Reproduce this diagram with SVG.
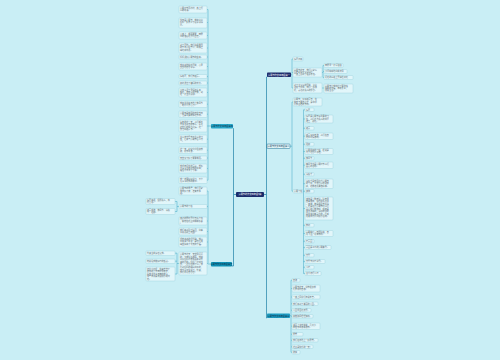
<svg xmlns="http://www.w3.org/2000/svg" width="500" height="360" viewBox="0 0 500 360">
<style>
.bg{fill:#c9eef5}
.leaf rect{fill:#e2f6fa;stroke:#9bcfdc;stroke-width:.4}
.leaf text{font-family:"Noto Sans CJK SC","Noto Sans",sans-serif;font-size:2.1px;fill:#5d6b72}
.nd text{font-family:"Noto Sans CJK SC","Noto Sans",sans-serif;font-size:2.2px;text-anchor:middle}
.br{fill:none;stroke:#3ea6c5;stroke-width:.5}
.sp{fill:none;stroke:#1d7fa6;stroke-width:.7}
</style>
<rect class="bg" x="0" y="0" width="500" height="360"/>

<g id="connectors">
<path class="sp" d="M236,194.5 H233.5 V128.5 H233"/>
<path class="sp" d="M233.5,194.5 V266 H232"/>
<path class="sp" d="M264,194.5 H266.5 V77 H267"/>
<path class="sp" d="M266.5,194.5 V318 H267"/>
<path class="br" d="M211,126 H208 M208,9.5 V180.2"/>
<path class="br" d="M208,9.5 H207 M208,22.5 H207 M208,35.5 H207 M208,48 H207 M208,57 H207 M208,66.5 H207 M208,76.5 H207 M208,83 H207 M208,92.5 H207 M208,104.2 H207 M208,114.2 H207 M208,126 H207 M208,139.2 H207 M208,150.2 H207 M208,158 H207 M208,168.5 H207 M208,180.2 H207"/>
<path class="br" d="M211,264 H208 M208,191 V263.5 M208,191 H207 M208,206.5 H207 M208,221 H207 M208,231.5 H207 M208,242 H207 M208,263.5 H207"/>
<path class="br" d="M179,206.5 H177 M177,201.5 V211.5 M177,201.5 H175 M177,211.5 H175"/>
<path class="br" d="M179,263.5 H177 M177,253.2 V274 M177,253.2 H175 M177,261.2 H175 M177,274 H175"/>
<path class="br" d="M291,74.7 H292 M292,59 V88 M292,59 H293 M292,72.5 H293 M292,88 H293"/>
<path class="br" d="M322,72.5 H323 M323,65.5 V77.5 M323,65.5 H324 M323,71.5 H324 M323,77.5 H324"/>
<path class="br" d="M322,88 H324"/>
<path class="br" d="M290,146.2 H292 M292,102 V191.2 M292,102 H293 M292,191.2 H293"/>
<path class="br" d="M303,191.2 H303.5 M303.5,109.8 V273.5 M303.5,109.8 H305 M303.5,119 H305 M303.5,128.3 H305 M303.5,136.2 H305 M303.5,144.3 H305 M303.5,151.5 H305 M303.5,158.3 H305 M303.5,165.2 H305 M303.5,174.3 H305 M303.5,183.7 H305 M303.5,191.3 H305 M303.5,208.5 H305 M303.5,225.3 H305 M303.5,233.5 H305 M303.5,241.3 H305 M303.5,247.5 H305 M303.5,255.3 H305 M303.5,261.5 H305 M303.5,267.3 H305 M303.5,273.5 H305"/>
<path class="br" d="M290,315.7 H291 M291,280.3 V352.3 M291,280.3 H292 M291,288.5 H292 M291,297 H292 M291,303.8 H292 M291,310.3 H292 M291,316.3 H292 M291,326.2 H292 M291,334.3 H292 M291,340.3 H292 M291,346.8 H292 M291,352.3 H292"/>
</g>

<g id="center" class="nd"><rect x="236" y="192" width="28" height="5" rx="1" fill="#1b2b6b"/><text x="250" y="195.3" fill="#ffffff">清明节的作文四年级5篇</text></g>
<g id="r1" class="nd"><rect x="267" y="72.5" width="24" height="4.5" rx="0.8" fill="#1b2b6b"/><text x="279" y="75.6" fill="#ffffff">清明节作文四年级篇一</text></g>
<g id="r2" class="nd"><rect x="267" y="144" width="23" height="4.5" rx="0.8" fill="#e6f8fb" stroke="#1d6f92" stroke-width=".5"/><text x="278.5" y="147.1" fill="#1d4a63">清明节作文四年级篇二</text></g>
<g id="r3" class="nd"><rect x="267" y="313.5" width="23" height="4.5" rx="0.8" fill="#1c9bc2"/><text x="278.5" y="316.6" fill="#0d2f45">清明节作文四年级篇三</text></g>
<g id="l1" class="nd"><rect x="211" y="124" width="22" height="4.5" rx="0.8" fill="#27a8cb"/><text x="222" y="127.1" fill="#0d2f45">清明节作文四年级篇四</text></g>
<g id="l2" class="nd"><rect x="211" y="262" width="21" height="4.5" rx="0.8" fill="#0f93b8"/><text x="221.5" y="265.1" fill="#0d2f45">清明节作文四年级篇五</text></g>

<g id="a1" class="leaf"><rect x="179" y="6" width="28" height="7" rx="0.8"/><text x="180" y="8.6"><tspan x="180">清明时节雨纷纷，路上行</tspan><tspan x="180" dy="2.4">人欲断魂。</tspan></text></g>
<g id="a2" class="leaf"><rect x="179" y="18" width="28" height="10" rx="0.8"/><text x="180" y="20.8"><tspan x="180">今天是清明节，我和爸爸</tspan><tspan x="180" dy="2.4">妈妈一起去乡下给爷爷扫</tspan><tspan x="180" dy="2.4">墓。</tspan></text></g>
<g id="a3" class="leaf"><rect x="179" y="32" width="28" height="7" rx="0.8"/><text x="180" y="34.6"><tspan x="180">一路上，细雨蒙蒙，田野</tspan><tspan x="180" dy="2.4">里的油菜花开得正旺。</tspan></text></g>
<g id="a4" class="leaf"><rect x="179" y="43" width="28" height="10" rx="0.8"/><text x="180" y="45.8"><tspan x="180">到了墓地，我们先把周围</tspan><tspan x="180" dy="2.4">的杂草清理干净，再摆上</tspan><tspan x="180" dy="2.4">鲜花和水果。</tspan></text></g>
<g id="a5" class="leaf"><rect x="179" y="55" width="28" height="4" rx="0.8"/><text x="180" y="57.7">妈妈讲起清明节的由来。</text></g>
<g id="a6" class="leaf"><rect x="179" y="63" width="28" height="7" rx="0.8"/><text x="180" y="65.6"><tspan x="180">我静静地站在墓前，心里</tspan><tspan x="180" dy="2.4">默默地想念爷爷。</tspan></text></g>
<g id="a7" class="leaf"><rect x="179" y="74.5" width="28" height="4" rx="0.8"/><text x="180" y="77.2">扫完墓，我们去踏青。</text></g>
<g id="a8" class="leaf"><rect x="179" y="81" width="28" height="4" rx="0.8"/><text x="180" y="83.7">柳树发出了嫩绿的新芽。</text></g>
<g id="a9" class="leaf"><rect x="179" y="88" width="28" height="9" rx="0.8"/><text x="180" y="90.6"><tspan x="180">小草从泥土里探出头来，</tspan><tspan x="180" dy="2.4">桃花、杏花争相开放，到</tspan><tspan x="180" dy="2.4">处一片生机勃勃。</tspan></text></g>
<g id="a10" class="leaf"><rect x="179" y="101" width="28" height="6.5" rx="0.8"/><text x="180" y="103.6"><tspan x="180">我和弟弟在草地上放风筝</tspan><tspan x="180" dy="2.4">，玩得可开心了。</tspan></text></g>
<g id="a11" class="leaf"><rect x="179" y="111" width="28" height="6.5" rx="0.8"/><text x="180" y="113.6"><tspan x="180">清明节是我国的传统节日</tspan><tspan x="180" dy="2.4">，也是重要的祭祀节日。</tspan></text></g>
<g id="a12" class="leaf"><rect x="179" y="120" width="28" height="12" rx="0.8"/><text x="180" y="122.8"><tspan x="180">每年的这一天，人们都会</tspan><tspan x="180" dy="2.4">去祭奠逝去的亲人，表达</tspan><tspan x="180" dy="2.4">对他们的怀念之情。这一</tspan><tspan x="180" dy="2.4">天也叫踏青节。</tspan></text></g>
<g id="a13" class="leaf"><rect x="179" y="135" width="28" height="8.5" rx="0.8"/><text x="180" y="137.6"><tspan x="180">古人有寒食节不生火的习</tspan><tspan x="180" dy="2.4">俗，后来与清明节合二为</tspan><tspan x="180" dy="2.4">一。</tspan></text></g>
<g id="a14" class="leaf"><rect x="179" y="147" width="28" height="6.5" rx="0.8"/><text x="180" y="149.6"><tspan x="180">这一天，家家户户插柳戴</tspan><tspan x="180" dy="2.4">柳，祈求平安。</tspan></text></g>
<g id="a15" class="leaf"><rect x="179" y="156" width="28" height="4" rx="0.8"/><text x="180" y="158.7">天空又下起了蒙蒙细雨。</text></g>
<g id="a16" class="leaf"><rect x="179" y="164" width="28" height="9" rx="0.8"/><text x="180" y="166.6"><tspan x="180">我望着远处的青山，想起</tspan><tspan x="180" dy="2.4">了爷爷生前对我的教诲，</tspan><tspan x="180" dy="2.4">眼泪不禁流了下来。</tspan></text></g>
<g id="a17" class="leaf"><rect x="179" y="177" width="28" height="6.5" rx="0.8"/><text x="180" y="179.6"><tspan x="180">我一定要好好学习，不辜</tspan><tspan x="180" dy="2.4">负爷爷对我的期望。</tspan></text></g>

<g id="b1" class="leaf"><rect x="179" y="187" width="28" height="8" rx="0.8"/><text x="180" y="189.4"><tspan x="180">清明节的早晨，我们全家</tspan><tspan x="180" dy="2.4">早早起了床，准备去祭</tspan><tspan x="180" dy="2.4">祖。</tspan></text></g>
<g id="b2" class="leaf"><rect x="179" y="204.5" width="28" height="4" rx="0.8"/><text x="180" y="207.2">清明节的习俗</text></g>
<g id="b2a" class="leaf"><rect x="146" y="198.5" width="29" height="6" rx="0.8"/><text x="147" y="201"><tspan x="147">扫墓祭祖，缅怀先人，寄</tspan><tspan x="147" dy="2.4">托哀思。</tspan></text></g>
<g id="b2b" class="leaf"><rect x="146" y="208.5" width="29" height="6" rx="0.8"/><text x="147" y="211"><tspan x="147">踏青郊游，放风筝、荡秋</tspan><tspan x="147" dy="2.4">千、插柳。</tspan></text></g>
<g id="b3" class="leaf"><rect x="179" y="217" width="28" height="8" rx="0.8"/><text x="180" y="219.4"><tspan x="180">路边的野花开得五颜六色</tspan><tspan x="180" dy="2.4">，蝴蝶在花丛中翩翩起舞</tspan><tspan x="180" dy="2.4">。</tspan></text></g>
<g id="b4" class="leaf"><rect x="179" y="228" width="28" height="7" rx="0.8"/><text x="180" y="230.6"><tspan x="180">我们来到烈士陵园，向革</tspan><tspan x="180" dy="2.4">命先烈献上花圈。</tspan></text></g>
<g id="b5" class="leaf"><rect x="179" y="237" width="28" height="10" rx="0.8"/><text x="180" y="239.8"><tspan x="180">望着高高的纪念碑，我心</tspan><tspan x="180" dy="2.4">中充满了敬意，是他们用</tspan><tspan x="180" dy="2.4">鲜血换来了今天的幸福。</tspan></text></g>
<g id="b6" class="leaf"><rect x="179" y="252" width="28" height="23" rx="0.8"/><text x="180" y="255"><tspan x="180">清明节这天，天空阴沉沉</tspan><tspan x="180" dy="2.6">的，下着毛毛细雨。我和</tspan><tspan x="180" dy="2.6">爸爸妈妈带着祭品来到外</tspan><tspan x="180" dy="2.6">婆的墓前。妈妈一边烧纸</tspan><tspan x="180" dy="2.6">钱，一边念叨着什么。我</tspan><tspan x="180" dy="2.6">看到妈妈的眼睛红红的，</tspan><tspan x="180" dy="2.6">我也忍不住哭了。外婆，</tspan><tspan x="180" dy="2.6">我们永远想念您！</tspan></text></g>
<g id="b6a" class="leaf"><rect x="146" y="251" width="29" height="4.5" rx="0.8"/><text x="147" y="253.9">外婆生前最疼爱我。</text></g>
<g id="b6b" class="leaf"><rect x="146" y="259" width="29" height="4.5" rx="0.8"/><text x="147" y="261.9">她总给我做好吃的饭菜。</text></g>
<g id="b6c" class="leaf"><rect x="146" y="267" width="29" height="14" rx="0.8"/><text x="147" y="269.8"><tspan x="147">记得小时候，外婆常常牵</tspan><tspan x="147" dy="2.5">着我的手去田野里散步，</tspan><tspan x="147" dy="2.5">给我讲许多有趣的故事，</tspan><tspan x="147" dy="2.5">那些日子是我最快乐的时</tspan><tspan x="147" dy="2.5">光。</tspan></text></g>

<g id="c1" class="leaf"><rect x="293" y="57" width="10" height="4" rx="0.8"/><text x="294" y="59.7">扫墓归来</text></g>
<g id="c2" class="leaf"><rect x="293" y="68" width="29" height="9" rx="0.8"/><text x="294" y="70.6"><tspan x="294">清明节这天，我们一家人</tspan><tspan x="294" dy="2.4">回老家给太爷爷扫墓，</tspan><tspan x="294" dy="2.4">一路上见到了很多景色。</tspan></text></g>
<g id="c2a" class="leaf"><rect x="324" y="63.5" width="19" height="4" rx="0.8"/><text x="325" y="66.2">田野里一片绿油油</text></g>
<g id="c2b" class="leaf"><rect x="324" y="69.5" width="23" height="4" rx="0.8"/><text x="325" y="72.2">小河哗哗地向前流淌</text></g>
<g id="c2c" class="leaf"><rect x="324" y="75.5" width="29" height="4" rx="0.8"/><text x="325" y="78.2">远处的山坡上开满杜鹃花</text></g>
<g id="c3" class="leaf"><rect x="293" y="83" width="29" height="10" rx="0.8"/><text x="294" y="85.8"><tspan x="294">到了太爷爷的墓前，爸爸</tspan><tspan x="294" dy="2.4">点燃了香烛，我们一起鞠</tspan><tspan x="294" dy="2.4">躬，表达对先人的怀念。</tspan></text></g>
<g id="c3a" class="leaf"><rect x="324" y="84" width="29" height="9" rx="0.8"/><text x="325" y="86.6"><tspan x="325">清明节让我懂得了要珍惜</tspan><tspan x="325" dy="2.4">眼前的幸福，孝敬长辈，</tspan><tspan x="325" dy="2.4">感恩生活。</tspan></text></g>

<g id="d1" class="leaf"><rect x="293" y="98" width="29" height="8" rx="0.8"/><text x="294" y="100.4"><tspan x="294">清明节，又叫踏青节，在</tspan><tspan x="294" dy="2.4">仲春与暮春之交，是中华</tspan><tspan x="294" dy="2.4">民族古老的节日。</tspan></text></g>
<g id="d2" class="leaf"><rect x="293" y="189.5" width="10" height="3.5" rx="0.8"/><text x="294" y="192">清明习俗</text></g>
<g id="e1" class="leaf"><rect x="305" y="108" width="9" height="3.5" rx="0.8"/><text x="306" y="110.5">扫墓</text></g>
<g id="e2" class="leaf"><rect x="305" y="115" width="28" height="8" rx="0.8"/><text x="306" y="117.4"><tspan x="306">扫墓是清明节最重要的习</tspan><tspan x="306" dy="2.4">俗，人们会为先人的坟墓</tspan><tspan x="306" dy="2.4">培土、献花。</tspan></text></g>
<g id="e3" class="leaf"><rect x="305" y="126.5" width="9" height="3.5" rx="0.8"/><text x="306" y="129">踏青</text></g>
<g id="e4" class="leaf"><rect x="305" y="133" width="28" height="6.5" rx="0.8"/><text x="306" y="135.6"><tspan x="306">踏青又叫春游，人们在春</tspan><tspan x="306" dy="2.4">光中尽情游玩。</tspan></text></g>
<g id="e5" class="leaf"><rect x="305" y="142.5" width="9" height="3.5" rx="0.8"/><text x="306" y="145">插柳</text></g>
<g id="e6" class="leaf"><rect x="305" y="148.5" width="28" height="6" rx="0.8"/><text x="306" y="151"><tspan x="306">清明插柳的习俗，据说是</tspan><tspan x="306" dy="2.4">为了纪念介子推。</tspan></text></g>
<g id="e7" class="leaf"><rect x="305" y="156.5" width="9" height="3.5" rx="0.8"/><text x="306" y="159">放风筝</text></g>
<g id="e8" class="leaf"><rect x="305" y="162" width="28" height="6.5" rx="0.8"/><text x="306" y="164.6"><tspan x="306">放风筝也是清明时节人们</tspan><tspan x="306" dy="2.4">喜爱的活动。</tspan></text></g>
<g id="e9" class="leaf"><rect x="305" y="172.5" width="9" height="3.5" rx="0.8"/><text x="306" y="175">荡秋千</text></g>
<g id="e10" class="leaf"><rect x="305" y="179" width="28" height="9.5" rx="0.8"/><text x="306" y="181.7"><tspan x="306">荡秋千是我国古代清明节</tspan><tspan x="306" dy="2.4">的习俗，不仅可以增进健</tspan><tspan x="306" dy="2.4">康，还能培养勇敢精神。</tspan></text></g>
<g id="e11" class="leaf"><rect x="305" y="189.5" width="9" height="3.5" rx="0.8"/><text x="306" y="192">蹴鞠</text></g>
<g id="e12" class="leaf"><rect x="305" y="197" width="28" height="23" rx="0.8"/><text x="306" y="199.8"><tspan x="306">蹴鞠是一种皮球，球皮用</tspan><tspan x="306" dy="2.5">皮革做成，球内用毛塞紧</tspan><tspan x="306" dy="2.5">。蹴鞠，就是用足去踢球</tspan><tspan x="306" dy="2.5">。这是古代清明节时人们</tspan><tspan x="306" dy="2.5">喜爱的一种游戏，相传是</tspan><tspan x="306" dy="2.5">黄帝发明的，最初的目的</tspan><tspan x="306" dy="2.5">是用来训练武士的，后来</tspan><tspan x="306" dy="2.5">逐渐成为民间娱乐活动。</tspan></text></g>
<g id="e13" class="leaf"><rect x="305" y="223.5" width="9" height="3.5" rx="0.8"/><text x="306" y="226">植树</text></g>
<g id="e14" class="leaf"><rect x="305" y="230.5" width="28" height="6" rx="0.8"/><text x="306" y="233"><tspan x="306">清明前后，春阳照临，春</tspan><tspan x="306" dy="2.4">雨飞洒，适宜植树。</tspan></text></g>
<g id="e15" class="leaf"><rect x="305" y="239.5" width="9" height="3.5" rx="0.8"/><text x="306" y="242">吃青团</text></g>
<g id="e16" class="leaf"><rect x="305" y="245.5" width="26" height="4" rx="0.8"/><text x="306" y="248.2">青团是江南的清明美食。</text></g>
<g id="e17" class="leaf"><rect x="305" y="253.5" width="9" height="3.5" rx="0.8"/><text x="306" y="256">寒食</text></g>
<g id="e18" class="leaf"><rect x="305" y="259.5" width="20" height="4" rx="0.8"/><text x="306" y="262.2">寒食节只吃冷食。</text></g>
<g id="e19" class="leaf"><rect x="305" y="265.5" width="9" height="3.5" rx="0.8"/><text x="306" y="268">斗鸡</text></g>
<g id="e20" class="leaf"><rect x="305" y="271.5" width="16" height="4" rx="0.8"/><text x="306" y="274.2">古代盛行斗鸡</text></g>

<g id="f1" class="leaf"><rect x="292" y="278.5" width="8" height="3.5" rx="0.8"/><text x="293" y="281">春游</text></g>
<g id="f2" class="leaf"><rect x="292" y="285" width="28" height="7" rx="0.8"/><text x="293" y="287.6"><tspan x="293">清明节这天，学校组织我</tspan><tspan x="293" dy="2.4">们去郊外春游。</tspan></text></g>
<g id="f3" class="leaf"><rect x="292" y="295" width="28" height="4" rx="0.8"/><text x="293" y="297.7">一路上同学们有说有笑。</text></g>
<g id="f4" class="leaf"><rect x="292" y="302" width="26" height="3.5" rx="0.8"/><text x="293" y="304.5">我们来到了美丽的公园。</text></g>
<g id="f5" class="leaf"><rect x="292" y="308.5" width="19" height="3.5" rx="0.8"/><text x="293" y="311">公园里百花盛开。</text></g>
<g id="f6" class="leaf"><rect x="292" y="314.5" width="21" height="3.5" rx="0.8"/><text x="293" y="317">柳枝随风轻轻摆动。</text></g>
<g id="f7" class="leaf"><rect x="292" y="323" width="28" height="6.5" rx="0.8"/><text x="293" y="325.6"><tspan x="293">湖面上波光粼粼，几只小</tspan><tspan x="293" dy="2.4">鸭在水中游来游去。</tspan></text></g>
<g id="f8" class="leaf"><rect x="292" y="332.5" width="11" height="3.5" rx="0.8"/><text x="293" y="335">野餐</text></g>
<g id="f9" class="leaf"><rect x="292" y="338.5" width="26" height="3.5" rx="0.8"/><text x="293" y="341">我们在草地上一起野餐。</text></g>
<g id="f10" class="leaf"><rect x="292" y="345" width="21" height="3.5" rx="0.8"/><text x="293" y="347.5">这真是快乐的一天！</text></g>
<g id="f11" class="leaf"><rect x="292" y="350.5" width="8" height="3.5" rx="0.8"/><text x="293" y="353">收获</text></g>
</svg>
